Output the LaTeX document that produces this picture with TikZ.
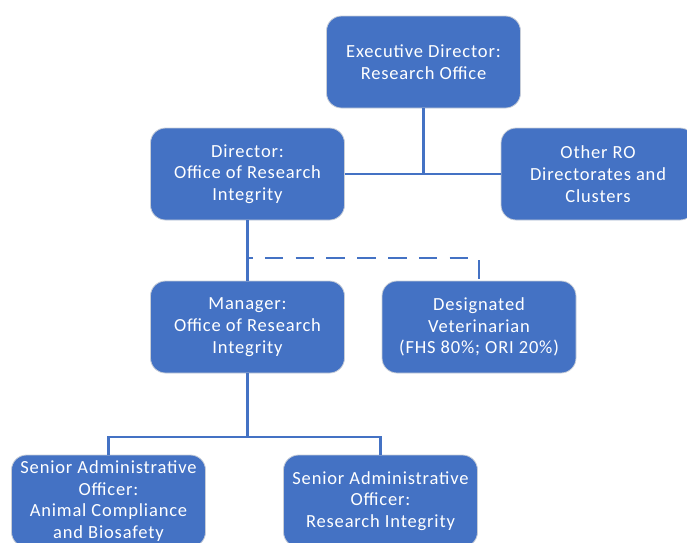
\documentclass[tikz,border=0pt]{standalone}
\usepackage{fontspec}
\setmainfont{Carlito}[LetterSpace=4.5]
\definecolor{boxblue}{HTML}{4472C4}
\definecolor{edgegray}{HTML}{C8CED8}
\begin{document}
\begin{tikzpicture}[x=1pt,y=-1pt,
  orgbox/.style={rectangle, rounded corners=15pt, fill=boxblue, draw=edgegray, line width=0.8pt,
    minimum width=194pt, minimum height=92pt, text=white, align=center,
    font=\fontsize{18.5}{21.7}\selectfont, inner sep=1pt},
  conn/.style={draw=boxblue, line width=2.2pt},
  dashconn/.style={draw=boxblue, line width=2.2pt, dash pattern=on 18.5pt off 12.3pt}]
\useasboundingbox (0,0) rectangle (687,542);
\begin{scope}
\clip (0,0) rectangle (687,542);
\node[orgbox] (exec) at (423.5,62) {Executive Director:\\Research Office};
\node[orgbox] (dir) at (247.5,174) {Director:\\Office of Research\\Integrity};
\node[orgbox] (other) at (598,174) {Other RO\\Directorates and\\Clusters};
\node[orgbox] (mgr) at (247.5,327) {Manager:\\Office of Research\\Integrity};
\node[orgbox] (vet) at (479,327) {Designated\\Veterinarian\\(FHS 80\%; ORI 20\%)};
\node[orgbox] (sao1) at (108.5,501) {Senior Administrative\\Officer:\\Animal Compliance\\and Biosafety};
\node[orgbox] (sao2) at (380.5,501) {Senior Administrative\\Officer:\\Research Integrity};

\coordinate (j1) at (exec.south |- dir.east);
\coordinate (d1) at (dir.south |- 0,258);
\coordinate (d2) at (vet.north |- 0,258);
\coordinate (d3) at (vet.north |- 0,260);
\coordinate (b1) at (mgr.south |- 0,437);
\coordinate (b2) at (sao1.north |- 0,437);
\coordinate (b3) at (sao2.north |- 0,437);

\draw[conn] (exec.south) -- (j1);
\draw[conn] (dir.east) -- (other.west);
\draw[conn] (dir.south) -- (mgr.north);
\draw[dashconn, dash phase=13.5pt] (d1) -- (d2);
\draw[dashconn] (d3) -- (vet.north);
\draw[conn] (mgr.south) -- (b1);
\draw[conn] (sao1.north) -- (b2) -- (b3) -- (sao2.north);
\end{scope}
\end{tikzpicture}
\end{document}
